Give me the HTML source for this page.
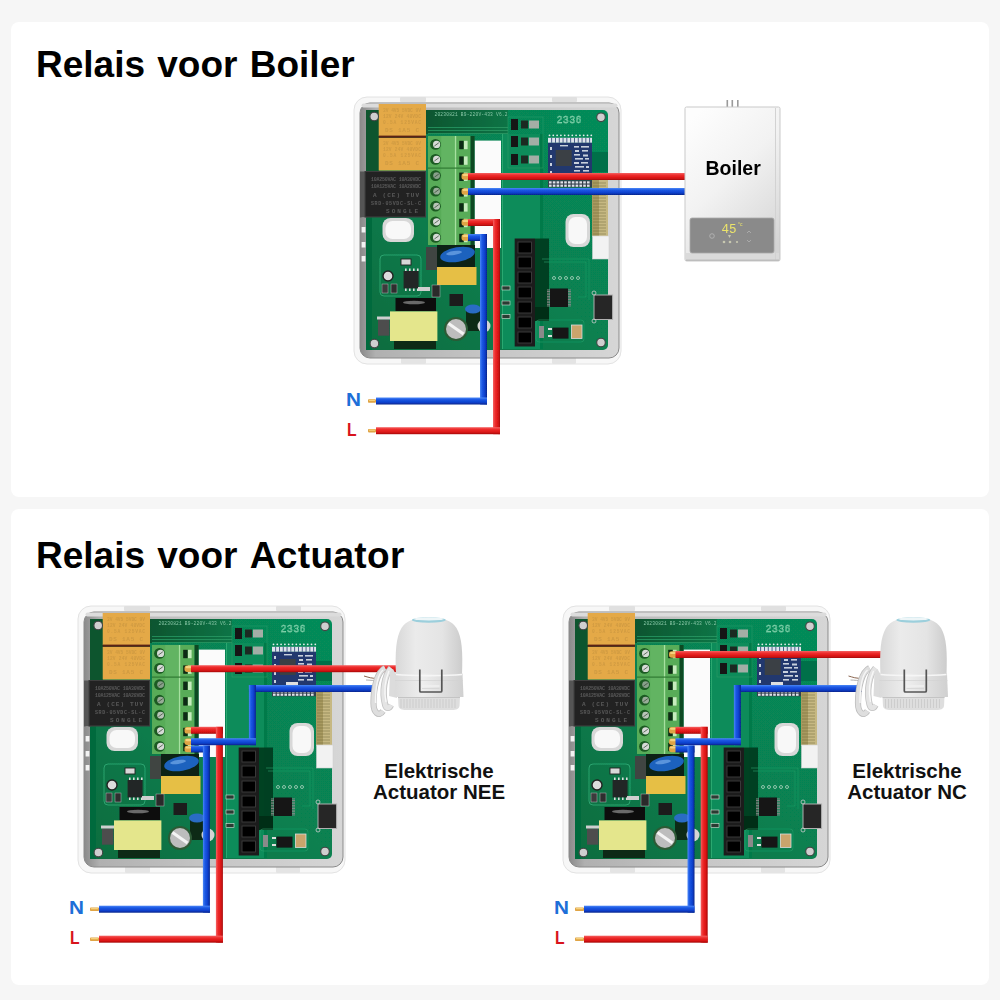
<!DOCTYPE html>
<html><head><meta charset="utf-8">
<style>
html,body{margin:0;padding:0;width:1000px;height:1000px;overflow:hidden;background:#f6f6f6;}
.card{position:absolute;left:11px;width:978px;background:#fff;border-radius:8px;}
svg{position:absolute;left:0;top:0;}
</style></head><body>
<div class="card" style="top:22px;height:475px"></div>
<div class="card" style="top:509px;height:476px"></div>
<svg width="1000" height="1000" viewBox="0 0 1000 1000">
<defs>

  <linearGradient id="gRh" x1="0" y1="0" x2="0" y2="1">
    <stop offset="0" stop-color="#f46464"/><stop offset="0.3" stop-color="#ee2c2c"/><stop offset="0.7" stop-color="#dc1616"/><stop offset="1" stop-color="#a60a0a"/>
  </linearGradient>
  <linearGradient id="gRv" x1="0" y1="0" x2="1" y2="0">
    <stop offset="0" stop-color="#f46464"/><stop offset="0.3" stop-color="#ee2c2c"/><stop offset="0.7" stop-color="#dc1616"/><stop offset="1" stop-color="#a60a0a"/>
  </linearGradient>
  <linearGradient id="gBh" x1="0" y1="0" x2="0" y2="1">
    <stop offset="0" stop-color="#4c88f6"/><stop offset="0.3" stop-color="#1c58e4"/><stop offset="0.7" stop-color="#0c40cc"/><stop offset="1" stop-color="#05228a"/>
  </linearGradient>
  <linearGradient id="gBv" x1="0" y1="0" x2="1" y2="0">
    <stop offset="0" stop-color="#4c88f6"/><stop offset="0.3" stop-color="#1c58e4"/><stop offset="0.7" stop-color="#0c40cc"/><stop offset="1" stop-color="#05228a"/>
  </linearGradient>
  <filter id="soft" x="0" y="0" width="1000" height="1000" filterUnits="userSpaceOnUse"><feGaussianBlur stdDeviation="0.35"/></filter>
  <linearGradient id="gTray" x1="0" y1="0" x2="1" y2="0">
    <stop offset="0" stop-color="#8a8a8a"/><stop offset="0.06" stop-color="#b0b0b0"/><stop offset="0.5" stop-color="#c6c6c6"/><stop offset="1" stop-color="#d6d6d6"/>
  </linearGradient>
  <linearGradient id="gPcb" x1="1" y1="0" x2="0" y2="1">
    <stop offset="0" stop-color="#068c5a"/><stop offset="0.5" stop-color="#078050"/><stop offset="1" stop-color="#0a6c3e"/>
  </linearGradient>
  <linearGradient id="gTopBand" x1="0" y1="0" x2="1" y2="0">
    <stop offset="0" stop-color="#07552f"/><stop offset="1" stop-color="#0a7446"/>
  </linearGradient>
  <linearGradient id="gBoil" x1="0.2" y1="0" x2="0.8" y2="1">
    <stop offset="0" stop-color="#fdfdfd"/><stop offset="0.45" stop-color="#f2f2f2"/><stop offset="0.8" stop-color="#e0e0e0"/><stop offset="1" stop-color="#d4d4d4"/>
  </linearGradient>
  <linearGradient id="gAct" x1="0" y1="0" x2="1" y2="0">
    <stop offset="0" stop-color="#d8d8d8"/><stop offset="0.3" stop-color="#ebebeb"/><stop offset="0.7" stop-color="#e4e4e4"/><stop offset="1" stop-color="#cccccc"/>
  </linearGradient>
  <linearGradient id="gAct2" x1="0" y1="0" x2="1" y2="0">
    <stop offset="0" stop-color="#dadada"/><stop offset="0.4" stop-color="#eeeeee"/><stop offset="1" stop-color="#d0d0d0"/>
  </linearGradient>

<g id="board">
    <!-- outer frame -->
    <rect x="-2" y="0" width="267" height="267" rx="13" fill="#f7f7f7" stroke="#e2e2e2" stroke-width="1"/>
    <rect x="44" y="0" width="26" height="5" rx="1" fill="#e0e0e0"/>
    <rect x="196" y="0" width="25" height="5" rx="1" fill="#e0e0e0"/>
    <rect x="45" y="260" width="25" height="7" rx="1" fill="#e4e4e4"/>
    <rect x="196" y="260" width="24" height="7" rx="1" fill="#e4e4e4"/>
    <!-- inner tray -->
    <rect x="4" y="6" width="259" height="255" rx="10" fill="url(#gTray)" stroke="#8a8a8a" stroke-width="1"/>
    <rect x="5.5" y="6.5" width="256" height="4" rx="2" fill="#dcdcdc"/>
    <!-- pcb -->
    <rect x="10" y="13" width="242" height="240" rx="5" fill="url(#gPcb)"/>
    <!-- darker left region -->
    <rect x="10" y="13" width="13" height="62" fill="#08552e"/>
    <rect x="10" y="120" width="6" height="133" fill="#066a3c"/>
    <!-- dark top band -->
    <rect x="70" y="13" width="82" height="24" fill="url(#gTopBand)"/>
    <g fill="#2c9a64"><rect x="72" y="30" width="80" height="0.8"/><rect x="72" y="33" width="80" height="0.8"/><rect x="72" y="36" width="80" height="0.8"/></g>
    <!-- lighter channel right of cutout -->
    <rect x="146" y="37" width="38" height="215" fill="#0b8c5a"/>
    <rect x="184" y="37" width="3" height="215" fill="#067a48"/>
    <rect x="146" y="37" width="1" height="215" fill="#2aa870"/>
    <!-- vents left -->
    <g fill="#f2f2f2"><rect x="5.6" y="100" width="3.8" height="5.5"/><rect x="5.6" y="115" width="3.8" height="5.5"/><rect x="5.6" y="130" width="3.8" height="5.5"/><rect x="5.6" y="145" width="3.8" height="5.5"/><rect x="5.6" y="159" width="3.8" height="5.5"/></g>
    <!-- relays orange -->
    <rect x="22.7" y="7" width="47.3" height="32" fill="#e4a947"/>
    <rect x="22.7" y="40.8" width="47.3" height="32.7" fill="#e4a947"/>
    <rect x="22.7" y="38.6" width="47.3" height="2.2" fill="#5a2412"/>
    <g font-family="Liberation Mono" font-size="4.6" fill="#cf9a42" font-weight="bold">
      <text x="27" y="15" textLength="38">3V 4V5 5VDC 9V</text><text x="27" y="21" textLength="38">12V 24V 48VDC</text><text x="27" y="27" textLength="38">0.5A 125VAC</text><text x="29" y="34.5" font-size="6" textLength="34">DS 1A5 C</text>
      <text x="27" y="48" textLength="38">3V 4V5 5VDC 9V</text><text x="27" y="54" textLength="38">12V 24V 48VDC</text><text x="27" y="60" textLength="38">0.5A 125VAC</text><text x="29" y="67.5" font-size="6" textLength="34">DS 1A5 C</text>
    </g>
    <!-- black relay -->
    <rect x="4" y="74.5" width="7" height="46" fill="#555"/>
    <rect x="9" y="74.5" width="60.5" height="45.5" fill="#242424" stroke="#3e3e3e" stroke-width="1"/>
    <g font-family="Liberation Mono" font-size="5" fill="#585858" font-weight="bold">
      <text x="15" y="84" textLength="50">10A250VAC 10A30VDC</text>
      <text x="15" y="91" textLength="50">10A125VAC 10A28VDC</text>
      <text x="17" y="100" font-size="6" textLength="46">A  (CE)  TUV</text>
      <text x="15" y="108" textLength="50">SRD-05VDC-SL-C</text>
      <text x="30" y="116" font-size="6" textLength="32">SONGLE</text>
    </g>
    <!-- terminal block -->
    <rect x="72" y="39" width="42.6" height="109" fill="#58ac58"/>
    <rect x="85.2" y="39" width="13.2" height="109" fill="#62b462"/>
    <rect x="98.8" y="39" width="1.4" height="109" fill="#a6e0a0"/>
    <rect x="72" y="70.5" width="42.6" height="1.2" fill="#2f7a32"/>
    <rect x="114.6" y="39" width="4" height="113" fill="#0a4a22"/>
    <g fill="#1b5a22">
      <circle cx="79.5" cy="47.4" r="5.4"/><circle cx="79.5" cy="62.4" r="5.4"/><circle cx="79.5" cy="78.6" r="5.4"/><circle cx="79.5" cy="94.2" r="5.4"/><circle cx="79.5" cy="109.2" r="5.4"/><circle cx="79.5" cy="124.8" r="5.4"/><circle cx="79.5" cy="140.4" r="5.4"/>
    </g>
    <g fill="#d6dad6">
      <circle cx="80.6" cy="47.4" r="3.6"/><circle cx="80.6" cy="62.4" r="3.6"/><circle cx="80.6" cy="78.6" r="3.4" fill="#88a08a"/><circle cx="80.6" cy="94.2" r="3.4" fill="#98ac98"/><circle cx="80.6" cy="109.2" r="3.4" fill="#b8c4b8"/><circle cx="80.6" cy="124.8" r="3.6"/><circle cx="80.6" cy="140.4" r="3.6"/>
    </g>
    <g stroke="#3a4a3a" stroke-width="0.9" opacity="0.85"><path d="M78.4,49.0 L82.8,45.8"/><path d="M78.4,64.0 L82.8,60.8"/><path d="M78.4,80.2 L82.8,77.0"/><path d="M78.4,95.8 L82.8,92.6"/><path d="M78.4,110.8 L82.8,107.6"/><path d="M78.4,126.4 L82.8,123.2"/><path d="M78.4,142.0 L82.8,138.8"/></g>
    <g fill="#0f2a12">
      <rect x="103.2" y="43.8" width="4.4" height="8.4"/><rect x="103.2" y="59.4" width="4.4" height="8.4"/>
      <rect x="103.2" y="75.6" width="4.4" height="8.4"/><rect x="103.2" y="91.2" width="4.4" height="8.4"/>
      <rect x="103.2" y="106.2" width="4.4" height="8.4"/><rect x="103.2" y="121.8" width="4.4" height="8.4"/>
      <rect x="103.2" y="136.8" width="4.4" height="8.4"/>
    </g>
    <g fill="#c6ecbe">
      <rect x="108" y="43.8" width="3.6" height="8.4"/><rect x="108" y="59.4" width="3.6" height="8.4"/>
      <rect x="108" y="75.6" width="3.6" height="8.4"/><rect x="108" y="91.2" width="3.6" height="8.4"/>
      <rect x="108" y="106.2" width="3.6" height="8.4"/><rect x="108" y="121.8" width="3.6" height="8.4"/>
      <rect x="108" y="136.8" width="3.6" height="8.4"/>
    </g>
    <!-- white cutout -->
    <rect x="118.8" y="43.6" width="26.2" height="107.4" fill="#fbfbfb"/>
    <!-- pcb text -->
    <text x="78.5" y="19.3" font-family="Liberation Mono" font-size="4.6" fill="#8fc8a8" textLength="73">20230821 B9-220V-433 V6.2</text>
    <text x="200.5" y="25.5" font-family="Liberation Mono" font-size="10" fill="none" stroke="#9be0bc" stroke-width="0.4" textLength="25">2336</text>
    <!-- transistors -->
    <g>
      <rect x="155" y="22" width="7" height="11" fill="#151515"/><rect x="165" y="23.5" width="7" height="8" fill="#1f2a22"/><rect x="173" y="23.5" width="10" height="8" fill="#a3aea6"/>
      <rect x="155" y="39" width="7" height="11" fill="#151515"/><rect x="165" y="40.5" width="7" height="8" fill="#1f2a22"/><rect x="173" y="40.5" width="10" height="8" fill="#a3aea6"/>
      <rect x="155" y="57" width="7" height="11" fill="#151515"/><rect x="165" y="58.5" width="7" height="8" fill="#1f2a22"/><rect x="173" y="58.5" width="10" height="8" fill="#a3aea6"/>
      <rect x="152" y="20" width="35" height="51" fill="none" stroke="#2a9c66" stroke-width="0.6"/>
    </g>
    <!-- blue wifi module -->
    <g fill="#e8eef0"><circle cx="193.5" cy="38.3" r="0.9"/><circle cx="197.3" cy="38.3" r="0.9"/><circle cx="201.1" cy="38.3" r="0.9"/><circle cx="204.9" cy="38.3" r="0.9"/><circle cx="208.7" cy="38.3" r="0.9"/><circle cx="212.5" cy="38.3" r="0.9"/><circle cx="216.3" cy="38.3" r="0.9"/><circle cx="220.1" cy="38.3" r="0.9"/><circle cx="223.9" cy="38.3" r="0.9"/><circle cx="227.7" cy="38.3" r="0.9"/><circle cx="231.5" cy="38.3" r="0.9"/><circle cx="235.3" cy="38.3" r="0.9"/></g>
    <rect x="192" y="40.8" width="44" height="5" fill="#dfe4ec"/>
    <g fill="#39507e"><rect x="195.2" y="40.8" width="0.9" height="5"/><rect x="199.0" y="40.8" width="0.9" height="5"/><rect x="202.8" y="40.8" width="0.9" height="5"/><rect x="206.6" y="40.8" width="0.9" height="5"/><rect x="210.4" y="40.8" width="0.9" height="5"/><rect x="214.2" y="40.8" width="0.9" height="5"/><rect x="218.0" y="40.8" width="0.9" height="5"/><rect x="221.8" y="40.8" width="0.9" height="5"/><rect x="225.6" y="40.8" width="0.9" height="5"/><rect x="229.4" y="40.8" width="0.9" height="5"/><rect x="233.2" y="40.8" width="0.9" height="5"/></g>
    <rect x="192" y="45.8" width="44" height="37.5" fill="#22396e"/>
    <rect x="199.7" y="53" width="16" height="16" fill="#3a3f45"/>
    <g fill="#c8d0dc">
      <rect x="218" y="49" width="5" height="1.6"/><rect x="225" y="49" width="8" height="1.6"/>
      <rect x="219" y="53" width="4" height="2"/><rect x="226" y="53" width="6" height="1.6"/>
      <rect x="218" y="57" width="6" height="1.6"/><rect x="227" y="57.5" width="5" height="2"/>
      <rect x="219" y="61" width="8" height="1.6"/><rect x="229" y="61" width="4" height="1.6"/>
      <rect x="218" y="65" width="5" height="2"/><rect x="225" y="65" width="7" height="1.6"/>
      <rect x="219" y="69" width="9" height="1.6"/><rect x="230" y="69" width="3" height="2"/>
      <rect x="218" y="73" width="6" height="1.6"/><rect x="227" y="73" width="6" height="1.6"/>
      <rect x="194" y="50" width="2" height="3"/><rect x="194" y="58" width="2" height="3"/><rect x="194" y="66" width="2" height="3"/><rect x="194" y="74" width="2" height="3"/>
      <rect x="204" y="48" width="8" height="1.4"/><rect x="206" y="76" width="12" height="4" fill="#e0e0e0"/>
    </g>
    <rect x="192" y="83.3" width="44" height="7" fill="#34404e"/>
    <g fill="#dfe4ea"><rect x="193.0" y="84.3" width="2.6" height="2.2"/><rect x="193.0" y="87.6" width="2.6" height="2.2"/><rect x="196.8" y="84.3" width="2.6" height="2.2"/><rect x="196.8" y="87.6" width="2.6" height="2.2"/><rect x="200.6" y="84.3" width="2.6" height="2.2"/><rect x="200.6" y="87.6" width="2.6" height="2.2"/><rect x="204.4" y="84.3" width="2.6" height="2.2"/><rect x="204.4" y="87.6" width="2.6" height="2.2"/><rect x="208.2" y="84.3" width="2.6" height="2.2"/><rect x="208.2" y="87.6" width="2.6" height="2.2"/><rect x="212.0" y="84.3" width="2.6" height="2.2"/><rect x="212.0" y="87.6" width="2.6" height="2.2"/><rect x="215.8" y="84.3" width="2.6" height="2.2"/><rect x="215.8" y="87.6" width="2.6" height="2.2"/><rect x="219.6" y="84.3" width="2.6" height="2.2"/><rect x="219.6" y="87.6" width="2.6" height="2.2"/><rect x="223.4" y="84.3" width="2.6" height="2.2"/><rect x="223.4" y="87.6" width="2.6" height="2.2"/><rect x="227.2" y="84.3" width="2.6" height="2.2"/><rect x="227.2" y="87.6" width="2.6" height="2.2"/><rect x="231.0" y="84.3" width="2.6" height="2.2"/><rect x="231.0" y="87.6" width="2.6" height="2.2"/></g>
    <rect x="236" y="55" width="16" height="20" fill="#067048"/>
    <!-- screws corner -->
    <g fill="#cfcfcf" stroke="#444" stroke-width="1.1">
      <circle cx="18.2" cy="19.5" r="4.3"/><circle cx="245" cy="20.3" r="4.3"/><circle cx="18.4" cy="246.6" r="4.3"/><circle cx="245" cy="245.5" r="4.3"/>
    </g>
    <!-- gold strip & white connector -->
    <rect x="236" y="83" width="16" height="57" fill="#c6b882"/><rect x="236" y="83" width="7" height="57" fill="#a89a60"/>
    <g stroke="#6e6434" stroke-width="0.7" opacity="0.7"><path d="M237,86H250M237,89H250M237,92H250M237,95H250M237,98H250M237,101H250M237,104H250M237,107H250M237,110H250M237,113H250M237,116H250M237,119H250M237,122H250M237,125H250M237,128H250M237,131H250M237,134H250M237,137H250"/></g>
    <rect x="236.5" y="139" width="16.5" height="23" fill="#f2f2f2" stroke="#d0d0d0" stroke-width="0.6"/>
    <!-- white holes -->
    <rect x="209.5" y="117" width="24.5" height="33" rx="8" fill="#d8d8d8"/>
    <rect x="212.5" y="120" width="18.5" height="27" rx="7" fill="#f8f8f8"/>
    <rect x="26.5" y="121" width="31.5" height="24" rx="8" fill="#d8d8d8"/>
    <rect x="29.5" y="124" width="25.5" height="18" rx="7" fill="#f8f8f8"/>
    <!-- left module outline -->
    <rect x="24" y="158" width="41" height="41" rx="4" fill="none" stroke="#36b07a" stroke-width="0.8"/>
    <circle cx="32" cy="179" r="5" fill="#dcdcdc" stroke="#222" stroke-width="1.4"/>
    <rect x="47.6" y="174" width="15" height="17.5" fill="#232825"/>
    <g fill="#ddd"><rect x="49" y="171.5" width="1.6" height="2.5"/><rect x="53" y="171.5" width="1.6" height="2.5"/><rect x="57" y="171.5" width="1.6" height="2.5"/><rect x="61" y="171.5" width="1.6" height="2.5"/><rect x="49" y="191.5" width="1.6" height="2.5"/><rect x="53" y="191.5" width="1.6" height="2.5"/><rect x="57" y="191.5" width="1.6" height="2.5"/><rect x="61" y="191.5" width="1.6" height="2.5"/></g>
    <rect x="45" y="162" width="10" height="6" fill="#d8d8d8" stroke="#222" stroke-width="0.9"/>
    <rect x="26" y="187" width="6" height="9" fill="#3a3a3a" stroke="#bbb" stroke-width="0.5"/><rect x="35" y="187" width="6" height="9" fill="#2e2e2e" stroke="#bbb" stroke-width="0.5"/>
    <!-- gray component + blue Y-cap + yellow cap -->
    <rect x="70" y="150" width="11" height="23" fill="#3f4542"/>
    <rect x="81" y="148" width="38" height="22" fill="#0b2416"/>
    <ellipse cx="101.5" cy="157.5" rx="17.5" ry="7.3" transform="rotate(-10 101.5 157.5)" fill="#1f62be"/>
    <ellipse cx="98" cy="156" rx="8" ry="2" transform="rotate(-8 98 156)" fill="#5a94dc"/>
    <rect x="81" y="170" width="39.5" height="18" fill="#e6bf45"/>
    <rect x="62" y="190" width="12" height="4" fill="#cfcfcf"/>
    <rect x="76" y="188" width="8" height="12" fill="#2a2a2a" stroke="#bbb" stroke-width="0.5"/>
    <!-- inductor + transformer -->
    <rect x="39.5" y="201" width="40.5" height="13" fill="#101010"/>
    <ellipse cx="58" cy="205.5" rx="11" ry="1.8" fill="#6a6a6a"/>
    <rect x="34" y="214.4" width="47.4" height="29.6" fill="#e4e68c"/>
    <rect x="22" y="222.5" width="11.4" height="16.2" fill="#4e4e4e"/>
    <rect x="21" y="219.5" width="13" height="3" fill="#cfcfcf"/>
    <rect x="38" y="244" width="42" height="8" fill="#0c2a18"/>
    <rect x="110" y="214" width="14" height="20" fill="#0b2a18"/>
    <!-- small IC + electrolytic -->
    <rect x="93.5" y="197" width="13.5" height="12" fill="#1e1e1e"/>
    <circle cx="100" cy="232" r="12" fill="#2e5a36"/>
    <circle cx="100" cy="232" r="10" fill="#bdbdbd"/>
    <path d="M92.5,226.5 L107.5,237" stroke="#f4f4f4" stroke-width="3"/>
    <ellipse cx="117" cy="212" rx="8" ry="4.5" fill="#2a6cc4"/>
    <circle cx="128" cy="229" r="6.5" fill="#d4d4d4"/>
    <g fill="#2a3a30" stroke="#d8e8dc" stroke-width="0.6">
      <rect x="146" y="189" width="8" height="4"/><rect x="146" y="204" width="8" height="4"/><rect x="146" y="217.5" width="8" height="4"/>
    </g>
    
    <!-- black header + shadow -->
    <rect x="179" y="141.5" width="14" height="82" fill="#053a1e" opacity="0.9"/>
    <rect x="158.7" y="141.5" width="20.3" height="108" fill="#1a1a1a"/>
    <g fill="#030303" stroke="#3c3c3c" stroke-width="0.9">
      <rect x="162" y="145" width="13.5" height="11"/><rect x="162" y="160" width="13.5" height="11"/>
      <rect x="162" y="175" width="13.5" height="11"/><rect x="162" y="190" width="13.5" height="11"/>
      <rect x="162" y="205" width="13.5" height="11"/><rect x="162" y="220" width="13.5" height="11"/>
      <rect x="162" y="235" width="13.5" height="11"/>
    </g>
    <!-- right IC -->
    <rect x="194" y="191.5" width="18" height="18.5" fill="#141414"/>
    <g fill="#8a8a8a"><rect x="191" y="192.5" width="3" height="0.9"/><rect x="212" y="192.5" width="3" height="0.9"/><rect x="191" y="194.1" width="3" height="0.9"/><rect x="212" y="194.1" width="3" height="0.9"/><rect x="191" y="195.7" width="3" height="0.9"/><rect x="212" y="195.7" width="3" height="0.9"/><rect x="191" y="197.3" width="3" height="0.9"/><rect x="212" y="197.3" width="3" height="0.9"/><rect x="191" y="198.9" width="3" height="0.9"/><rect x="212" y="198.9" width="3" height="0.9"/><rect x="191" y="200.5" width="3" height="0.9"/><rect x="212" y="200.5" width="3" height="0.9"/><rect x="191" y="202.1" width="3" height="0.9"/><rect x="212" y="202.1" width="3" height="0.9"/><rect x="191" y="203.7" width="3" height="0.9"/><rect x="212" y="203.7" width="3" height="0.9"/><rect x="191" y="205.3" width="3" height="0.9"/><rect x="212" y="205.3" width="3" height="0.9"/><rect x="191" y="206.9" width="3" height="0.9"/><rect x="212" y="206.9" width="3" height="0.9"/><rect x="191" y="208.5" width="3" height="0.9"/><rect x="212" y="208.5" width="3" height="0.9"/></g>
    <g fill="none" stroke="#c8e0d0" stroke-width="0.7"><circle cx="198" cy="181" r="1.5"/><circle cx="204" cy="181" r="1.5"/><circle cx="210" cy="181" r="1.5"/><circle cx="216" cy="181" r="1.5"/><circle cx="222" cy="181" r="1.5"/></g>
    <rect x="179" y="210" width="14" height="14" fill="#062e18"/>
    <g fill="none" stroke="#2aa06a" stroke-width="0.6"><path d="M188,165 H230 V200 H222"/><path d="M186,162 H233 V203"/></g>
    <!-- micro usb -->
    <rect x="238" y="198" width="18.6" height="24.5" fill="#262626" stroke="#b0b0b0" stroke-width="1"/>
    <circle cx="238" cy="196" r="2" fill="none" stroke="#ccc" stroke-width="0.8"/><circle cx="238" cy="224" r="2" fill="none" stroke="#ccc" stroke-width="0.8"/>
    <!-- tantalum + regulator -->
    <rect x="215.4" y="228" width="10.6" height="13.4" fill="#c9a46c" stroke="#ddd" stroke-width="0.8"/>
    <rect x="196.5" y="230.6" width="16" height="11" fill="#131313"/>
    <rect x="192" y="231" width="4" height="2" fill="#ddd"/><rect x="192" y="238" width="4" height="2" fill="#ddd"/>
    <rect x="183" y="229" width="5" height="12" fill="#8a8a8a"/>
    <rect x="180" y="223" width="48" height="22" rx="3" fill="none" stroke="#2aa06a" stroke-width="0.6"/>
</g>

</defs>

<text x="36" y="77" font-family="Liberation Sans" font-weight="bold" font-size="37" word-spacing="2" fill="#000">Relais voor Boiler</text>
<text x="36" y="568" font-family="Liberation Sans" font-weight="bold" font-size="37" word-spacing="2" fill="#000">Relais voor <tspan letter-spacing="0.35">Actuator</tspan></text>
<text x="346" y="406.2" font-family="Liberation Sans" font-weight="bold" font-size="19" fill="#1d6fd8" textLength="15" lengthAdjust="spacingAndGlyphs">N</text>
<text x="347" y="436.3" font-family="Liberation Sans" font-weight="bold" font-size="19" fill="#d8141c" textLength="9.6" lengthAdjust="spacingAndGlyphs">L</text>
<text x="69" y="913.8" font-family="Liberation Sans" font-weight="bold" font-size="19" fill="#1d6fd8" textLength="15" lengthAdjust="spacingAndGlyphs">N</text>
<text x="70" y="944.2" font-family="Liberation Sans" font-weight="bold" font-size="19" fill="#d8141c" textLength="9.6" lengthAdjust="spacingAndGlyphs">L</text>
<text x="554" y="913.8" font-family="Liberation Sans" font-weight="bold" font-size="19" fill="#1d6fd8" textLength="15" lengthAdjust="spacingAndGlyphs">N</text>
<text x="555" y="944.2" font-family="Liberation Sans" font-weight="bold" font-size="19" fill="#d8141c" textLength="9.6" lengthAdjust="spacingAndGlyphs">L</text>
<text x="439" y="778" text-anchor="middle" font-family="Liberation Sans" font-weight="bold" font-size="20.5" fill="#111">Elektrische</text>
<text x="439" y="799" text-anchor="middle" font-family="Liberation Sans" font-weight="bold" font-size="20.5" fill="#111">Actuator NEE</text>
<text x="907" y="778" text-anchor="middle" font-family="Liberation Sans" font-weight="bold" font-size="20.5" fill="#111">Elektrische</text>
<text x="907" y="799" text-anchor="middle" font-family="Liberation Sans" font-weight="bold" font-size="20.5" fill="#111">Actuator NC</text>

<g filter="url(#soft)">
<use href="#board" x="356" y="97"/>
<use href="#board" x="80" y="606"/>
<use href="#board" x="565" y="606"/>
<rect x="461.5" y="173.3" width="8" height="6.4" rx="2.6" fill="#e0a445"/><rect x="462.5" y="173.9" width="6" height="2.1" rx="1.3" fill="#f6d27e"/><rect x="461.5" y="188.3" width="8" height="6.4" rx="2.6" fill="#e0a445"/><rect x="462.5" y="188.9" width="6" height="2.1" rx="1.3" fill="#f6d27e"/><rect x="461.5" y="219.3" width="8" height="6.4" rx="2.6" fill="#e0a445"/><rect x="462.5" y="219.9" width="6" height="2.1" rx="1.3" fill="#f6d27e"/><rect x="461.5" y="234.3" width="8" height="6.4" rx="2.6" fill="#e0a445"/><rect x="462.5" y="234.9" width="6" height="2.1" rx="1.3" fill="#f6d27e"/>
<rect x="468.0" y="173.0" width="217.0" height="7" fill="url(#gRh)"/>
<rect x="468.0" y="188.0" width="217.0" height="7" fill="url(#gBh)"/>
<rect x="468.0" y="219.0" width="32.0" height="7" fill="url(#gRh)"/>
<rect x="493.0" y="219.0" width="7" height="215.2" fill="url(#gRv)"/>
<rect x="376.0" y="427.2" width="124.0" height="7" fill="url(#gRh)"/>
<rect x="468.0" y="234.0" width="19.0" height="7" fill="url(#gBh)"/>
<rect x="480.0" y="234.0" width="7" height="170.5" fill="url(#gBv)"/>
<rect x="376.0" y="397.5" width="111.0" height="7" fill="url(#gBh)"/>
<rect x="368.0" y="428.9" width="8" height="3.5" rx="0.8" fill="#e0a445"/><rect x="369.0" y="429.6" width="6" height="1.2" rx="0.4" fill="#f6d27e"/><rect x="368.0" y="399.2" width="8" height="3.5" rx="0.8" fill="#e0a445"/><rect x="369.0" y="399.9" width="6" height="1.2" rx="0.4" fill="#f6d27e"/>
<rect x="184.5" y="665.5" width="8" height="6.4" rx="2.6" fill="#e0a445"/><rect x="185.5" y="666.1" width="6" height="2.1" rx="1.3" fill="#f6d27e"/><rect x="184.5" y="727.1" width="8" height="6.4" rx="2.6" fill="#e0a445"/><rect x="185.5" y="727.7" width="6" height="2.1" rx="1.3" fill="#f6d27e"/><rect x="184.5" y="738.5" width="8" height="6.4" rx="2.6" fill="#e0a445"/><rect x="185.5" y="739.1" width="6" height="2.1" rx="1.3" fill="#f6d27e"/><rect x="184.5" y="745.8" width="8" height="6.4" rx="2.6" fill="#e0a445"/><rect x="185.5" y="746.4" width="6" height="2.1" rx="1.3" fill="#f6d27e"/>
<rect x="191.0" y="665.2" width="205.0" height="7" fill="url(#gRh)"/>
<rect x="191.0" y="726.8" width="31.9" height="7" fill="url(#gRh)"/>
<rect x="215.9" y="726.8" width="7" height="215.9" fill="url(#gRv)"/>
<rect x="99.0" y="935.7" width="123.9" height="7" fill="url(#gRh)"/>
<rect x="248.9" y="685.0" width="127.1" height="7" fill="url(#gBh)"/>
<rect x="248.9" y="685.0" width="7" height="60.2" fill="url(#gBv)"/>
<rect x="191.0" y="738.2" width="64.9" height="7" fill="url(#gBh)"/>
<rect x="191.0" y="745.5" width="18.9" height="7" fill="url(#gBh)"/>
<rect x="202.9" y="745.5" width="7" height="167.2" fill="url(#gBv)"/>
<rect x="99.0" y="905.7" width="110.9" height="7" fill="url(#gBh)"/>
<rect x="90.0" y="937.5" width="9" height="3.5" rx="0.8" fill="#e0a445"/><rect x="91.0" y="938.1" width="7" height="1.2" rx="0.4" fill="#f6d27e"/><rect x="90.0" y="907.5" width="9" height="3.5" rx="0.8" fill="#e0a445"/><rect x="91.0" y="908.1" width="7" height="1.2" rx="0.4" fill="#f6d27e"/>
<rect x="669.0" y="651.3" width="8" height="6.4" rx="2.6" fill="#e0a445"/><rect x="670.0" y="651.9" width="6" height="2.1" rx="1.3" fill="#f6d27e"/><rect x="669.0" y="727.1" width="8" height="6.4" rx="2.6" fill="#e0a445"/><rect x="670.0" y="727.7" width="6" height="2.1" rx="1.3" fill="#f6d27e"/><rect x="669.0" y="738.5" width="8" height="6.4" rx="2.6" fill="#e0a445"/><rect x="670.0" y="739.1" width="6" height="2.1" rx="1.3" fill="#f6d27e"/><rect x="669.0" y="745.8" width="8" height="6.4" rx="2.6" fill="#e0a445"/><rect x="670.0" y="746.4" width="6" height="2.1" rx="1.3" fill="#f6d27e"/>
<rect x="675.5" y="651.0" width="205.5" height="7" fill="url(#gRh)"/>
<rect x="675.5" y="726.8" width="32.2" height="7" fill="url(#gRh)"/>
<rect x="700.7" y="726.8" width="7" height="215.9" fill="url(#gRv)"/>
<rect x="584.0" y="935.7" width="123.7" height="7" fill="url(#gRh)"/>
<rect x="733.9" y="685.0" width="128.1" height="7" fill="url(#gBh)"/>
<rect x="733.9" y="685.0" width="7" height="60.2" fill="url(#gBv)"/>
<rect x="675.5" y="738.2" width="65.4" height="7" fill="url(#gBh)"/>
<rect x="675.5" y="745.5" width="19.0" height="7" fill="url(#gBh)"/>
<rect x="687.5" y="745.5" width="7" height="167.2" fill="url(#gBv)"/>
<rect x="584.0" y="905.7" width="110.5" height="7" fill="url(#gBh)"/>
<rect x="575.0" y="937.5" width="9" height="3.5" rx="0.8" fill="#e0a445"/><rect x="576.0" y="938.1" width="7" height="1.2" rx="0.4" fill="#f6d27e"/><rect x="575.0" y="907.5" width="9" height="3.5" rx="0.8" fill="#e0a445"/><rect x="576.0" y="908.1" width="7" height="1.2" rx="0.4" fill="#f6d27e"/>

<g id="boiler">
  <rect x="726.5" y="100" width="1.6" height="7" fill="#9a9a9a"/>
  <rect x="731.5" y="100" width="1.6" height="7" fill="#9a9a9a"/>
  <rect x="737" y="100" width="1.6" height="7" fill="#9a9a9a"/>
  <rect x="685" y="107" width="95" height="154" rx="1.5" fill="url(#gBoil)" stroke="#c9c9c9" stroke-width="1"/>
  <rect x="686" y="253" width="93" height="7" fill="#dadada"/>
  <rect x="775" y="108" width="1" height="152" fill="#d2d2d2"/>
  <rect x="686" y="259.5" width="93" height="1.5" fill="#bdbdbd"/>
  <rect x="690" y="218" width="84" height="35" rx="2" fill="#8a8a8a" stroke="#a8a8a8" stroke-width="0.8"/>
  <text x="721.5" y="232.5" font-family="Liberation Mono" font-size="12.5" fill="#ece46a" textLength="15">45</text>
  <text x="738" y="226" font-family="Liberation Sans" font-size="5" fill="#ece46a">°c</text>
  <circle cx="712" cy="236" r="2.3" fill="none" stroke="#b8b8b8" stroke-width="0.8"/>
  <path d="M747,233 l2,-2 l2,2" fill="none" stroke="#b8b8b8" stroke-width="0.7"/>
  <path d="M747,240 l2,2 l2,-2" fill="none" stroke="#b8b8b8" stroke-width="0.7"/>
  <g fill="#c8c8b0"><circle cx="724" cy="242" r="1.3"/><circle cx="730" cy="242" r="1.3"/><circle cx="737" cy="242" r="1.1"/><path d="M728,235 l3,0 l-1.5,3z"/></g>
  <text x="705.5" y="175" font-family="Liberation Sans" font-weight="bold" font-size="19.5" fill="#000">Boiler</text>
</g>

<g transform="translate(0,0)">
  <!-- copper strands -->
  <path d="M364,676 C368,677 372,679 378,678" fill="none" stroke="#8a6650" stroke-width="1"/>
  <path d="M366,680 C370,680 374,681 379,680" fill="none" stroke="#9a9a9a" stroke-width="0.8"/>
  <!-- cable coil -->
  <path d="M385,668 C377,672 373.5,688 373.5,703 C373.5,713 379,717 383,711" fill="none" stroke="#bdbdbd" stroke-width="6.2"/>
  <path d="M385,668 C377,672 373.5,688 373.5,703 C373.5,713 379,717 383,711" fill="none" stroke="#dedede" stroke-width="4.6"/>
  <path d="M383,670 C377,675 375.5,690 375.5,703" fill="none" stroke="#f6f6f6" stroke-width="1.4"/>
  <path d="M391,668 C384,676 382,692 385,704 C386,709 389,709 391,705" fill="none" stroke="#c2c2c2" stroke-width="6.4"/>
  <path d="M391,668 C384,676 382,692 385,704 C386,709 389,709 391,705" fill="none" stroke="#e4e4e4" stroke-width="4.8"/>
  <path d="M389,671 C385,680 384,692 386,702" fill="none" stroke="#f8f8f8" stroke-width="1.3"/>
  <path d="M397,676 L393,669 L390,672 L389,696 L397,698 Z" fill="#dcdcdc"/>
  <!-- dome -->
  <path d="M396,675 C395,652 396,637 401.5,628 C406,620.5 415,617.7 429,617.7 C443,617.7 452,620.5 456.5,628 C462,637 463,652 462,675 Z" fill="url(#gAct)"/>
  <ellipse cx="428.8" cy="620" rx="17" ry="2.8" fill="#9ccfdc"/>
  <ellipse cx="428.8" cy="618.9" rx="15" ry="1.6" fill="#eef6f8"/>
  <!-- collar -->
  <path d="M395.5,673.5 L462.5,673.5 L463.5,697 L394.5,697 Z" fill="url(#gAct2)"/>
  <path d="M396,674.5 C410,676 448,676 462,674.5" fill="none" stroke="#f6f6f6" stroke-width="1.6"/>
  <path d="M395,680.5 L463,680.5" stroke="#d2d2d2" stroke-width="0.7"/>
  <!-- ring -->
  <path d="M398,697 L460,697 L459.5,706 C459,709 456,710 452,710 L406,710 C402,710 399,709 398.5,706 Z" fill="#dedede"/>
  <g stroke="#c6c6c6" stroke-width="0.7"><path d="M401,699v9M404,699v9M407,699v9M410,699v9M413,699v9M416,699v9M419,699v9M422,699v9M425,699v9M428,699v9M431,699v9M434,699v9M437,699v9M440,699v9M443,699v9M446,699v9M449,699v9M452,699v9M455,699v9"/></g>
  <path d="M398,697.5 L460,697.5" stroke="#c4c4c4" stroke-width="1"/>
  <!-- latch -->
  <path d="M419.8,669.5 L419.8,691 Q419.8,692 421,692 L440.5,692 Q441.8,692 441.8,691 L441.8,669.5" fill="none" stroke="#555" stroke-width="1.7"/>
  <path d="M422,686 L439.5,686" stroke="#f0f0f0" stroke-width="1.6"/>
  <path d="M422,688.5 L439.5,688.5" stroke="#d4d4d4" stroke-width="0.8"/>
</g>

<g transform="translate(484.5,0)">
  <!-- copper strands -->
  <path d="M364,676 C368,677 372,679 378,678" fill="none" stroke="#8a6650" stroke-width="1"/>
  <path d="M366,680 C370,680 374,681 379,680" fill="none" stroke="#9a9a9a" stroke-width="0.8"/>
  <!-- cable coil -->
  <path d="M385,668 C377,672 373.5,688 373.5,703 C373.5,713 379,717 383,711" fill="none" stroke="#bdbdbd" stroke-width="6.2"/>
  <path d="M385,668 C377,672 373.5,688 373.5,703 C373.5,713 379,717 383,711" fill="none" stroke="#dedede" stroke-width="4.6"/>
  <path d="M383,670 C377,675 375.5,690 375.5,703" fill="none" stroke="#f6f6f6" stroke-width="1.4"/>
  <path d="M391,668 C384,676 382,692 385,704 C386,709 389,709 391,705" fill="none" stroke="#c2c2c2" stroke-width="6.4"/>
  <path d="M391,668 C384,676 382,692 385,704 C386,709 389,709 391,705" fill="none" stroke="#e4e4e4" stroke-width="4.8"/>
  <path d="M389,671 C385,680 384,692 386,702" fill="none" stroke="#f8f8f8" stroke-width="1.3"/>
  <path d="M397,676 L393,669 L390,672 L389,696 L397,698 Z" fill="#dcdcdc"/>
  <!-- dome -->
  <path d="M396,675 C395,652 396,637 401.5,628 C406,620.5 415,617.7 429,617.7 C443,617.7 452,620.5 456.5,628 C462,637 463,652 462,675 Z" fill="url(#gAct)"/>
  <ellipse cx="428.8" cy="620" rx="17" ry="2.8" fill="#9ccfdc"/>
  <ellipse cx="428.8" cy="618.9" rx="15" ry="1.6" fill="#eef6f8"/>
  <!-- collar -->
  <path d="M395.5,673.5 L462.5,673.5 L463.5,697 L394.5,697 Z" fill="url(#gAct2)"/>
  <path d="M396,674.5 C410,676 448,676 462,674.5" fill="none" stroke="#f6f6f6" stroke-width="1.6"/>
  <path d="M395,680.5 L463,680.5" stroke="#d2d2d2" stroke-width="0.7"/>
  <!-- ring -->
  <path d="M398,697 L460,697 L459.5,706 C459,709 456,710 452,710 L406,710 C402,710 399,709 398.5,706 Z" fill="#dedede"/>
  <g stroke="#c6c6c6" stroke-width="0.7"><path d="M401,699v9M404,699v9M407,699v9M410,699v9M413,699v9M416,699v9M419,699v9M422,699v9M425,699v9M428,699v9M431,699v9M434,699v9M437,699v9M440,699v9M443,699v9M446,699v9M449,699v9M452,699v9M455,699v9"/></g>
  <path d="M398,697.5 L460,697.5" stroke="#c4c4c4" stroke-width="1"/>
  <!-- latch -->
  <path d="M419.8,669.5 L419.8,691 Q419.8,692 421,692 L440.5,692 Q441.8,692 441.8,691 L441.8,669.5" fill="none" stroke="#555" stroke-width="1.7"/>
  <path d="M422,686 L439.5,686" stroke="#f0f0f0" stroke-width="1.6"/>
  <path d="M422,688.5 L439.5,688.5" stroke="#d4d4d4" stroke-width="0.8"/>
</g>
</g>
</svg>
</body></html>
